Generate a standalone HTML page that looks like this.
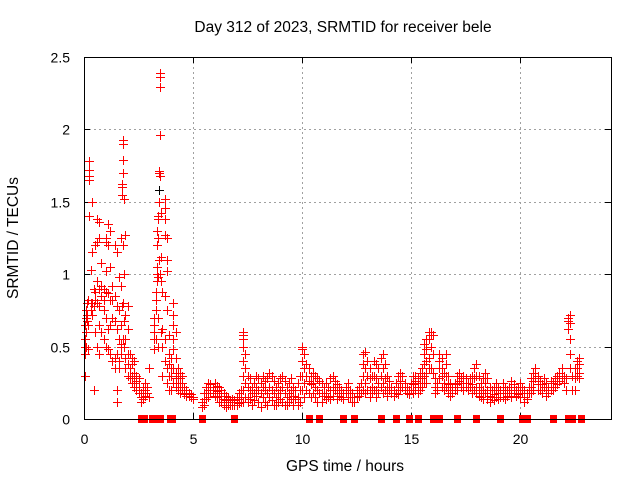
<!DOCTYPE html>
<html><head><meta charset="utf-8"><style>
html,body{margin:0;padding:0;background:#fff;}
svg{display:block;font-family:"Liberation Sans",sans-serif;}
</style></head><body>
<svg id="c" width="640" height="480" viewBox="0 0 640 480"></svg>
<script>
const xTicks=[0,5,10,15,20];
const yTicks=[0,0.5,1,1.5,2,2.5];
const yTickLabels=["0","0.5","1","1.5","2","2.5"];
const times=[0.05,0.1,0.15,0.2,0.25,0.3,0.35,0.45,0.5,0.6,0.7,0.8,0.9,1.0,1.1,1.2,1.3,1.4,1.5,1.6,1.7,1.75,1.8,1.85,1.9,2.0,2.1,2.2,2.3,2.4,2.5,2.6,2.7,2.8,2.9,3.0,3.2,3.3,3.35,3.4,3.45,3.5,3.55,3.6,3.7,3.8,3.9,4.0,4.1,4.2,4.3,4.4,4.5,4.6,4.7,4.8,4.9,5.0,5.4,5.5,5.6,5.7,5.8,5.9,6.0,6.1,6.2,6.3,6.4,6.5,6.6,6.7,6.8,6.9,7.0,7.1,7.2,7.3,7.4,7.5,7.6,7.7,7.8,7.9,8.0,8.1,8.2,8.3,8.4,8.5,8.6,8.7,8.8,8.9,9.0,9.1,9.2,9.3,9.4,9.5,9.6,9.7,9.8,9.9,10.0,10.1,10.2,10.3,10.4,10.5,10.6,10.7,10.8,10.9,11.0,11.1,11.2,11.3,11.4,11.5,11.6,11.7,11.8,11.9,12.0,12.1,12.2,12.3,12.4,12.5,12.6,12.7,12.8,12.9,13.0,13.1,13.2,13.3,13.4,13.5,13.6,13.7,13.8,13.9,14.0,14.1,14.2,14.3,14.4,14.5,14.6,14.7,14.8,14.9,15.0,15.1,15.2,15.3,15.4,15.5,15.6,15.7,15.8,15.9,16.0,16.1,16.2,16.3,16.4,16.5,16.6,16.7,16.8,16.9,17.0,17.1,17.2,17.3,17.4,17.5,17.6,17.7,17.8,17.9,18.0,18.1,18.2,18.3,18.4,18.5,18.6,18.7,18.8,18.9,19.0,19.1,19.2,19.3,19.4,19.5,19.6,19.7,19.8,19.9,20.0,20.1,20.2,20.3,20.4,20.5,20.6,20.7,20.8,20.9,21.0,21.1,21.2,21.3,21.4,21.5,21.6,21.7,21.8,21.9,22.0,22.1,22.2,22.3,22.4,22.5,22.6,22.7];
const values=[[0.5,0.55,0.3,0.45,0.65],[0.7,0.75,0.6,0.5],[0.8,0.72,0.68],[0.82,0.65,0.48],[1.78,1.72,1.68,1.65,1.4],[1.03,0.8,0.75],[1.5,1.15,0.8,0.72],[0.2,0.9,0.78],[1.2,0.88,0.82,0.6],[1.38,1.22,0.95,0.8,0.5],[1.36,1.25,0.9,0.78,0.65,0.45],[1.08,0.92,0.85,0.6],[0.9,0.82,0.75,0.55],[1.25,1.22,1.02,0.88,0.7,0.5],[1.35,1.2,0.87,0.62,0.48],[1.3,1.05,0.82,0.65,0.45],[0.92,0.82,0.7,0.4],[1.2,0.85,0.68,0.42,0.35],[1.15,0.78,0.62,0.45,0.2,0.12],[0.98,0.75,0.55,0.4,0.35],[1.25,0.92,0.65,0.52,0.5,0.45],[1.62,1.6,1.55,0.78],[1.93,1.9,1.79,1.7,1.2,0.8,0.55],[1.52,1.0,0.68,0.5],[1.27,0.72,0.55,0.42,0.35],[0.78,0.62,0.45,0.38,0.3],[0.45,0.35,0.3,0.28],[0.42,0.38,0.3,0.25],[0.4,0.32,0.25,0.22],[0.3,0.26,0.2],[0.28,0.22,0.18],[0.18,0.15,0.12],[0.22,0.18,0.14],[0.25,0.2,0.16],[0.22,0.18],[0.35,0.15],[0.48,0.55,0.65,0.7,0.6],[0.82,0.88,0.75,0.55],[1.0,1.05,1.3,1.2,0.95],[1.4,1.38,1.25,0.98,0.7,0.5],[1.71,1.7,1.5,1.1],[2.39,2.36,2.29,1.96,1.68,1.0],[1.42,1.12,0.95,0.6],[0.88,0.62,0.5,0.3],[1.52,1.46,1.38,1.27,0.85,0.55,0.4],[1.25,1.1,1.02,0.75,0.35,0.25],[0.58,0.45,0.38,0.3,0.2],[0.42,0.35,0.3,0.2],[0.8,0.72,0.65,0.55,0.48,0.35,0.25],[0.6,0.42,0.32,0.28,0.22],[0.35,0.3,0.25,0.2],[0.32,0.28,0.22,0.18],[0.3,0.25,0.2],[0.22,0.2,0.17],[0.2,0.18,0.16],[0.18,0.16],[0.17,0.15],[0.15,0.14],[0.12,0.08],[0.18,0.14,0.1],[0.22,0.18,0.14],[0.25,0.2,0.15],[0.24,0.2,0.18],[0.22,0.18],[0.25,0.2,0.16],[0.23,0.19,0.15],[0.22,0.18,0.12],[0.2,0.16,0.12],[0.18,0.14,0.1],[0.16,0.13,0.08],[0.15,0.12,0.1],[0.12,0.1],[0.14,0.12,0.1],[0.13,0.1],[0.15,0.12,0.1],[0.18,0.14,0.11],[0.2,0.15,0.12],[0.6,0.58,0.55,0.5,0.4,0.3,0.2,0.12],[0.45,0.35,0.25,0.15],[0.3,0.22,0.15,0.12],[0.28,0.2,0.14],[0.22,0.18,0.1],[0.25,0.18,0.13],[0.3,0.22,0.16],[0.28,0.2,0.12],[0.25,0.18,0.08],[0.3,0.22,0.15],[0.26,0.2,0.12],[0.28,0.18,0.1],[0.32,0.22,0.15],[0.3,0.2,0.13],[0.26,0.18,0.1],[0.22,0.15,0.1],[0.25,0.18,0.12],[0.28,0.2,0.14],[0.3,0.22,0.12],[0.26,0.18,0.1],[0.22,0.15,0.1],[0.25,0.18,0.12],[0.28,0.2,0.14],[0.22,0.16,0.1],[0.2,0.14],[0.25,0.15,0.1],[0.3,0.2,0.12],[0.5,0.48,0.4,0.3,0.2],[0.45,0.35,0.25,0.15],[0.38,0.3,0.2],[0.35,0.26,0.18],[0.3,0.24,0.15],[0.32,0.25,0.18],[0.3,0.22,0.15],[0.28,0.2,0.12],[0.26,0.18],[0.25,0.18,0.12],[0.22,0.16],[0.25,0.18,0.14],[0.22,0.15],[0.28,0.2,0.14],[0.3,0.22,0.16],[0.26,0.2],[0.24,0.18,0.14],[0.22,0.16],[0.2,0.15],[0.18,0.14],[0.22,0.18],[0.25,0.2,0.15],[0.2,0.15],[0.18,0.12],[0.15,0.12],[0.2,0.15],[0.22,0.16],[0.25,0.18],[0.45,0.38,0.3,0.2],[0.46,0.35,0.25,0.18],[0.4,0.3,0.2],[0.35,0.28,0.2,0.15],[0.3,0.22,0.18],[0.4,0.3,0.2],[0.38,0.28,0.2,0.15],[0.35,0.25,0.18],[0.42,0.3,0.22],[0.45,0.35,0.25,0.18],[0.38,0.28,0.2],[0.3,0.22,0.16],[0.26,0.2],[0.22,0.18],[0.2,0.16],[0.25,0.18],[0.3,0.22,0.17],[0.32,0.26,0.2],[0.3,0.22],[0.25,0.2],[0.22,0.18],[0.2,0.17],[0.25,0.2],[0.3,0.24,0.18],[0.3,0.26,0.2],[0.28,0.22,0.18],[0.32,0.25,0.2],[0.35,0.28,0.22],[0.52,0.45,0.38,0.3,0.25],[0.55,0.48,0.4,0.32,0.25],[0.6,0.55,0.42,0.35],[0.6,0.58,0.5,0.35],[0.58,0.45,0.32],[0.28,0.22,0.18],[0.25,0.2],[0.45,0.4,0.35,0.28],[0.42,0.35,0.3,0.22],[0.32,0.25,0.2],[0.45,0.38,0.3,0.22],[0.3,0.24,0.18],[0.25,0.2,0.16],[0.22,0.18],[0.25,0.2],[0.3,0.24,0.2],[0.32,0.26],[0.28,0.22],[0.3,0.25,0.2],[0.28,0.22],[0.25,0.2],[0.28,0.22],[0.3,0.24,0.18],[0.35,0.28,0.2],[0.38,0.3,0.22,0.18],[0.3,0.22,0.16],[0.25,0.2,0.15],[0.28,0.2,0.14],[0.32,0.25,0.18],[0.28,0.2,0.14],[0.22,0.16,0.12],[0.2,0.15],[0.22,0.17,0.13],[0.25,0.2,0.15],[0.22,0.18,0.14],[0.2,0.15],[0.25,0.2,0.15],[0.22,0.18,0.14],[0.2,0.16],[0.22,0.18],[0.26,0.2,0.15],[0.24,0.18],[0.2,0.16],[0.22,0.17],[0.25,0.2,0.15],[0.22,0.18],[0.2,0.15,0.12],[0.18,0.14],[0.22,0.18],[0.28,0.22,0.18],[0.32,0.26,0.2],[0.35,0.28],[0.3,0.24,0.2],[0.26,0.2],[0.24,0.18],[0.28,0.22],[0.25,0.2,0.16],[0.22,0.18],[0.26,0.2],[0.25,0.2],[0.28,0.22],[0.3,0.24],[0.32,0.26],[0.35,0.28],[0.3,0.25],[0.28,0.2],[0.7,0.68,0.62],[0.72,0.66,0.55,0.45,0.35],[0.3,0.2],[0.35,0.28,0.2],[0.4,0.35,0.3],[0.42,0.38,0.32,0.28]];
const zeroTimes=[2.6,2.75,3.1,3.25,3.5,3.95,4.05,5.4,6.9,10.3,10.8,11.9,12.4,13.6,14.3,14.9,15.3,16.0,16.3,17.1,18.0,19.1,20.1,20.3,21.5,22.2,22.4,22.8];
const blackTimes=[0.45,3.45,3.5,22.3];
const blackValues=[0.2,1.58,2.29,0.55];

const NS="http://www.w3.org/2000/svg";
const svg=document.getElementById('c');
const L=84,R=611,T=57,B=419,XMAX=24.17,YMAX=2.5;
function sx(t){return L+(t/XMAX)*(R-L);}
function sy(v){return B-(v/YMAX)*(B-T);}
function mk(tag,attrs,parent){const e=document.createElementNS(NS,tag);for(const k in attrs)e.setAttribute(k,attrs[k]);(parent||svg).appendChild(e);return e;}

const grid=mk('g',{stroke:'#a0a0a0','stroke-width':1,'stroke-dasharray':'2,3'});


yTicks.forEach(v=>{if(v>0&&v<YMAX){const y=Math.round(sy(v))+0.5;mk('line',{x1:L,x2:R,y1:y,y2:y},grid);}});
xTicks.forEach(t=>{if(t>0){const x=Math.round(sx(t))+0.5;mk('line',{x1:x,x2:x,y1:T,y2:B},grid);}});

const axes=mk('g',{stroke:'#000','stroke-width':1});


yTicks.forEach((v,i)=>{const y=Math.round(sy(v))+0.5;
 mk('line',{x1:L,x2:L+6,y1:y,y2:y},axes);mk('line',{x1:R-6,x2:R,y1:y,y2:y},axes);
 const tx=mk('text',{x:L-14,y:y+5,'text-anchor':'end','font-size':14,fill:'#000',stroke:'none'});
 tx.textContent=yTickLabels[i];
 
 });
xTicks.forEach(t=>{const x=Math.round(sx(t))+0.5;
 mk('line',{x1:x,x2:x,y1:B,y2:B-6},axes);mk('line',{x1:x,x2:x,y1:T,y2:T+6},axes);
 const tx=mk('text',{x:x,y:444,'text-anchor':'middle','font-size':14,fill:'#000',stroke:'none'});
 tx.textContent=String(t);
 
 });

function plus(x,y,color,g){
 mk('rect',{x:x-4,y:y,width:9,height:1,fill:color},g);
 mk('rect',{x:x,y:y-4,width:1,height:9,fill:color},g);}
const bs=mk('g',{});


blackTimes.forEach((t,i)=>plus(Math.round(sx(t)),Math.round(sy(blackValues[i])),'#000',bs));
const rs=mk('g',{});


times.forEach((t,i)=>values[i].forEach(v=>plus(Math.round(sx(t)),Math.round(sy(v)),'#ff0000',rs)));
zeroTimes.forEach(t=>{const x=Math.round(sx(t));
 const r=mk('rect',{x:x-3,y:B-4,width:7,height:8,fill:'#ff0000'},rs);
 
 });

const bd=mk('rect',{x:L+0.5,y:T+0.5,width:R-L,height:B-T,fill:'none',stroke:'#000','stroke-width':1});



const ti=mk('text',{x:343,y:32,'text-anchor':'middle','font-size':15.5,fill:'#000'});
ti.textContent='Day 312 of 2023, SRMTID for receiver bele';


const xt=mk('text',{x:345,y:471,'text-anchor':'middle','font-size':15.5,fill:'#000'});
xt.textContent='GPS time / hours';


const yt=mk('text',{x:0,y:0,'text-anchor':'middle','font-size':15.5,fill:'#000',transform:'translate(18,238) rotate(-90)'});
yt.textContent='SRMTID / TECUs';


</script>
</body></html>
